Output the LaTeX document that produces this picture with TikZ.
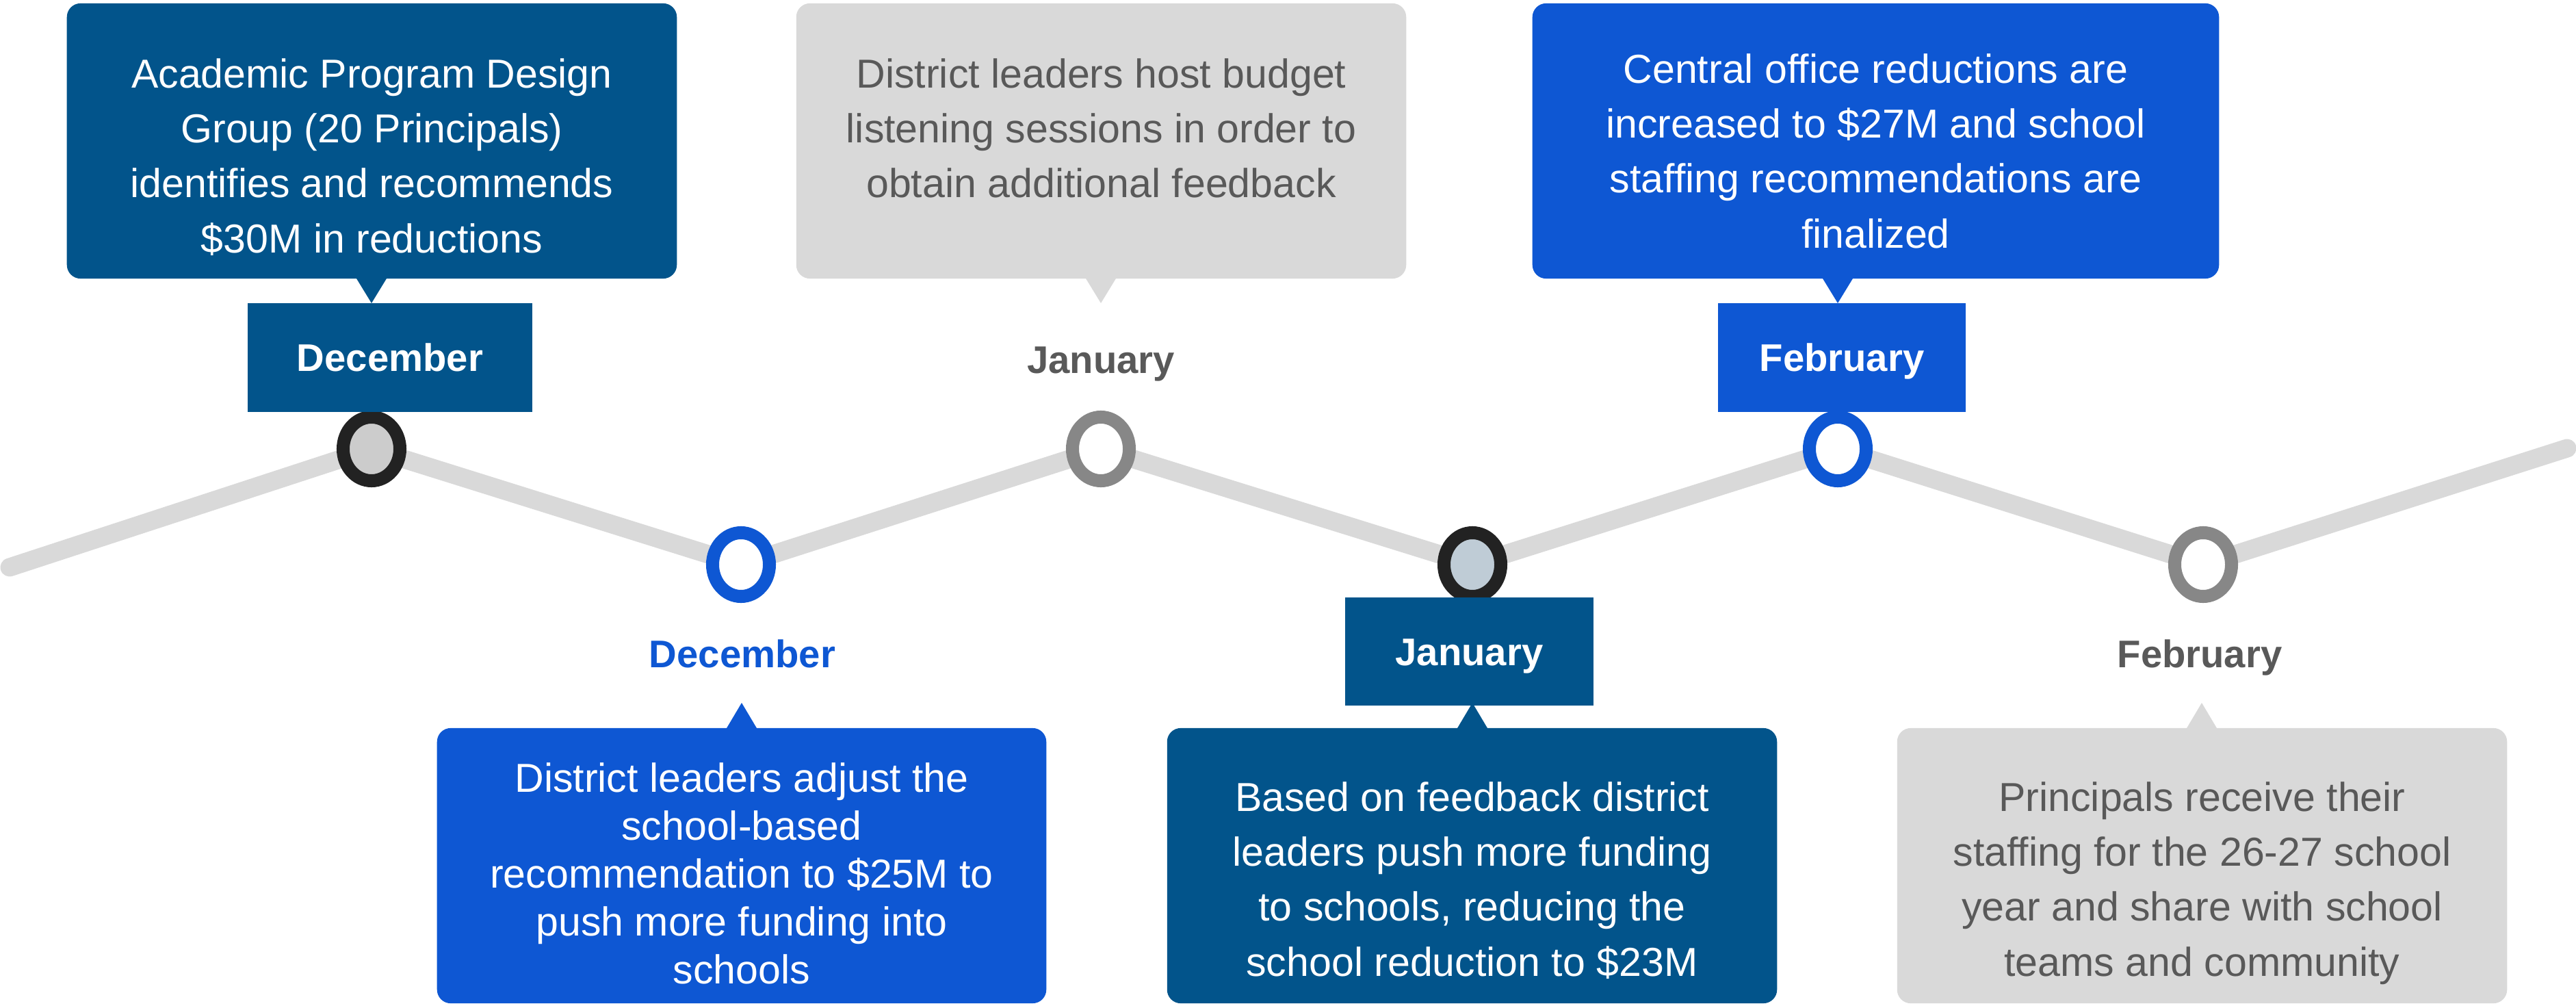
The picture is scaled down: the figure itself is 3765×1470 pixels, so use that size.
\documentclass[tikz,border=0pt]{standalone}
\usepackage{fontspec}
\setmainfont{Liberation Sans}
\usetikzlibrary{shapes.geometric,positioning}

\definecolor{navy}{RGB}{2,84,139}
\definecolor{brightblue}{RGB}{14,87,211}
\definecolor{paleGrey}{RGB}{217,217,217}
\definecolor{inkGrey}{RGB}{89,89,89}
\definecolor{ringGrey}{RGB}{135,135,135}
\definecolor{ringBlack}{RGB}{34,34,34}
\definecolor{dotGrey}{RGB}{204,204,204}
\definecolor{dotSlate}{RGB}{191,204,214}

\tikzset{
  card/.style={rounded corners=0.2cm, minimum height=4.02cm, inner sep=0pt},
  cardtext/.style={align=center, inner sep=0pt, anchor=north, font=\fontsize{16.8}{22.8}\selectfont},
  monthbox/.style={minimum height=1.59cm, inner sep=0pt, text height=11.5pt, text depth=0pt, text=white, font=\fontsize{16}{19}\selectfont\bfseries},
  monthlabel/.style={inner sep=0pt, text height=11.5pt, text depth=0pt, font=\fontsize{16}{19}\selectfont\bfseries},
  ring/.style={ellipse, draw, line width=0.19cm, minimum width=0.83cm, minimum height=0.93cm, inner sep=0pt},
  track/.style={line width=0.27cm, paleGrey, line cap=round, line join=round}
}
\def\pointer[#1](#2)(#3){\fill[#1] (#2) -- ++(-22,#3) -- ++(44,0) -- cycle;}

\begin{document}
\begin{tikzpicture}[x=0.01cm, y=-0.01cm]
				\useasboundingbox (0,0) rectangle (3765,1470);
				
				% timeline
				\coordinate (start) at (14,829);
				\coordinate (d1) at (543,656);
				\coordinate (d2) at (1083,825);
				\coordinate (d3) at (1609,656);
				\coordinate (d4) at (2152,825);
				\coordinate (d5) at (2686,656);
				\coordinate (d6) at (3220,825);
				\coordinate (end) at (3752,655);
				\draw[track] (start) -- (d1) -- (d2) -- (d3) -- (d4) -- (d5) -- (d6) -- (end);
				
				\node[ring, draw=ringBlack, fill=dotGrey] (r1) at (d1) {};
				\node[ring, draw=brightblue, fill=white] (r2) at (d2) {};
				\node[ring, draw=ringGrey, fill=white] (r3) at (d3) {};
				\node[ring, draw=ringBlack, fill=dotSlate] (r4) at (d4) {};
				\node[ring, draw=brightblue, fill=white] (r5) at (d5) {};
				\node[ring, draw=ringGrey, fill=white] (r6) at (d6) {};
				
				% top cards
				\node[card, fill=navy, minimum width=8.91cm] (b1) at (543.5,206) {};
				\node[cardtext, text=white] (t1) at (543.5,85) {Academic Program Design\\Group (20 Principals)\\identifies and recommends\\\$30M in reductions};
				\pointer[navy](543,443)(-36)
				\node[monthbox, fill=navy, minimum width=4.15cm] (m1) at (570,522.5) {December};
				
				\node[card, fill=paleGrey, minimum width=8.91cm] (b3) at (1609.5,206) {};
				\node[cardtext, text=inkGrey] (t3) at (1609.5,85) {District leaders host budget\\listening sessions in order to\\obtain additional feedback};
				\pointer[paleGrey](1609,443)(-36)
				\node[monthlabel, text=inkGrey] (m3) at (1609,525) {January};
				
				\node[card, fill=brightblue, minimum width=10.03cm] (b5) at (2741.5,206) {};
				\node[cardtext, text=white] (t5) at (2741.5,78) {Central office reductions are\\increased to \$27M and school\\staffing recommendations are\\finalized};
				\pointer[brightblue](2686,443)(-36)
				\node[monthbox, fill=brightblue, minimum width=3.62cm] (m5) at (2692,522.5) {February};
				
				% bottom cards
				\node[card, fill=brightblue, minimum width=8.90cm] (b2) at (1084,1265) {};
				\node[cardtext, text=white, font=\fontsize{16.8}{19.9}\selectfont] (t2) at (1084,1114) {District leaders adjust the\\school-based\\recommendation to \$25M to\\push more funding into\\schools};
				\pointer[brightblue](1084,1027)(37)
				\node[monthlabel, text=brightblue] (m2) at (1085,955) {December};
				
				\node[card, fill=navy, minimum width=8.91cm] (b4) at (2151.5,1265) {};
				\node[cardtext, text=white] (t4) at (2151.5,1142) {Based on feedback district\\leaders push more funding\\to schools, reducing the\\school reduction to \$23M};
				\pointer[navy](2152,1027)(37)
				\node[monthbox, fill=navy, minimum width=3.63cm, minimum height=1.58cm] (m4) at (2147.5,952) {January};
				
				\node[card, fill=paleGrey, minimum width=8.91cm] (b6) at (3218.5,1265) {};
				\node[cardtext, text=inkGrey] (t6) at (3218.5,1142) {Principals receive their\\staffing for the 26-27 school\\year and share with school\\teams and community};
				\pointer[paleGrey](3218,1027)(37)
				\node[monthlabel, text=inkGrey] (m6) at (3215,955) {February};
			\end{tikzpicture}
\end{document}
